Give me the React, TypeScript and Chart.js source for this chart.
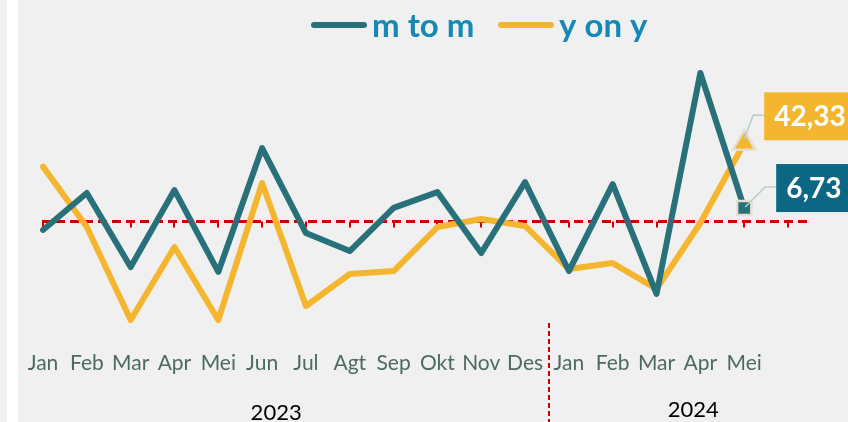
import React, { useEffect, useRef } from 'react';
import { Chart, registerables } from 'chart.js';

Chart.register(...registerables);

// ---- data ----
const months = ['Jan', 'Feb', 'Mar', 'Apr', 'Mei', 'Jun', 'Jul', 'Agt', 'Sep', 'Okt', 'Nov', 'Des', 'Jan', 'Feb', 'Mar', 'Apr', 'Mei', ''];
const years = ['2023', '2024'];
const mtmLabel = 'm to m';
const yoyLabel = 'y on y';
const mtm = [-5.3, 15.0, -25.7, 16.6, -28.4, 39.7, -7.0, -16.9, 6.8, 15.5, -18.0, 21.0, -27.9, 19.9, -40.5, 81.0, 6.73];
const yoy = [29.5, -3.7, -54.8, -14.7, -54.8, 20.5, -47.1, -29.5, -27.9, -3.7, 0.7, -3.1, -26.8, -23.5, -37.7, -1.5, 42.33];

const TEAL = '#28717a';
const YELLOW = '#f4b62f';
const TEAL_BOX = '#0b6783';
const LEGEND_TEXT = '#1589b5';
const RED = '#d00000';
const FONT = 'Lato, "Open Sans", sans-serif';

const fmt = (v: number) => v.toFixed(2).replace('.', ',');

const decoPlugin = {
  id: 'deco',
  beforeDraw(chart: any) {
    const { ctx, width, height } = chart;
    ctx.save();
    ctx.fillStyle = '#f0f0f0';
    ctx.fillRect(0, 0, width, height);
    ctx.fillStyle = '#ffffff';
    ctx.fillRect(7, 0, 11, height);
    ctx.restore();
  },
  beforeDatasetsDraw(chart: any) {
    const { ctx, height } = chart;
    const x = chart.scales.x;
    const y = chart.scales.y;
    const y0 = Math.round(y.getPixelForValue(0)) + 1.5;
    ctx.save();
    // zero line (dashed) with tick marks
    ctx.strokeStyle = RED;
    ctx.lineWidth = 3;
    ctx.setLineDash([9, 5]);
    ctx.beginPath();
    ctx.moveTo(Math.round(x.getPixelForValue(0)) - 1, y0);
    ctx.lineTo(x.right + 22, y0);
    ctx.stroke();
    ctx.setLineDash([]);
    ctx.lineWidth = 2;
    ctx.beginPath();
    for (let i = 0; i < months.length; i++) {
      const px = Math.round(x.getPixelForValue(i));
      ctx.moveTo(px, y0);
      ctx.lineTo(px, y0 + 6);
    }
    ctx.stroke();
    // separator between years
    ctx.lineWidth = 2;
    ctx.setLineDash([5, 3]);
    const sx = Math.round(x.getPixelForValue(11.55));
    ctx.beginPath();
    ctx.moveTo(sx, 323);
    ctx.lineTo(sx, height);
    ctx.stroke();
    ctx.setLineDash([]);
    // year labels
    ctx.fillStyle = '#000000';
    ctx.font = `22px ${FONT}`;
    ctx.textAlign = 'center';
    ctx.textBaseline = 'alphabetic';
    ctx.fillText(years[0], x.getPixelForValue(5.32), 420);
    ctx.fillText(years[1], x.getPixelForValue(14.84), 417);
    ctx.restore();
  },
  afterDatasetsDraw(chart: any) {
    const { ctx } = chart;
    ctx.save();
    // legend
    const items = [
      { label: chart.data.datasets[0].label, color: TEAL, x: 311 },
      { label: chart.data.datasets[1].label, color: YELLOW, x: 498 },
    ];
    ctx.font = `bold 33px ${FONT}`;
    ctx.textBaseline = 'alphabetic';
    ctx.textAlign = 'left';
    for (const it of items) {
      ctx.strokeStyle = it.color;
      ctx.lineWidth = 6;
      ctx.lineCap = 'round';
      ctx.beginPath();
      ctx.moveTo(it.x + 3, 25);
      ctx.lineTo(it.x + 53, 25);
      ctx.stroke();
      ctx.fillStyle = LEGEND_TEXT;
      ctx.fillText(it.label, it.x + 61, 37);
    }
    // data labels for last points
    const lbls = [
      { ds: 1, fill: YELLOW, dx: 20, top: -51, lead: [[0, -4], [9, -28]] },
      { ds: 0, fill: TEAL_BOX, dx: 32, top: -44, lead: [[1, -1], [21, -21]] },
    ];
    ctx.font = `bold 28px ${FONT}`;
    for (const l of lbls) {
      const meta = chart.getDatasetMeta(l.ds);
      const data = chart.data.datasets[l.ds].data;
      const idx = data.length - 1;
      const pt = meta.data[idx];
      const px = pt.x;
      const py = pt.y;
      const text = fmt(data[idx]);
      const tw = ctx.measureText(text).width;
      const bx = px + l.dx;
      const by = py + l.top;
      const bw = tw + 20;
      const bh = 48;
      // leader
      ctx.strokeStyle = '#b8cdc8';
      ctx.lineWidth = 1.5;
      ctx.lineCap = 'butt';
      ctx.beginPath();
      ctx.moveTo(px + l.lead[0][0], py + l.lead[0][1]);
      ctx.lineTo(px + l.lead[1][0], py + l.lead[1][1]);
      ctx.lineTo(bx, py + l.lead[1][1]);
      ctx.stroke();
      // box
      ctx.fillStyle = l.fill;
      ctx.fillRect(bx, by, bw, bh);
      ctx.fillStyle = '#ffffff';
      ctx.textAlign = 'center';
      ctx.textBaseline = 'middle';
      ctx.fillText(text, bx + bw / 2, by + bh / 2 + 1);
    }
    ctx.restore();
  },
};

export default function App() {
  const ref = useRef<HTMLCanvasElement | null>(null);
  useEffect(() => {
    if (!ref.current) return;
    const lastIdx = (ctx: any) => ctx.dataIndex === ctx.dataset.data.length - 1;
    const chart = new Chart(ref.current, {
      type: 'line',
      data: {
        labels: months,
        datasets: [
          {
            label: mtmLabel,
            data: mtm,
            borderColor: TEAL,
            backgroundColor: TEAL,
            borderWidth: 6,
            tension: 0,
            borderJoinStyle: 'round',
            borderCapStyle: 'round',
            pointStyle: 'rect',
            pointRadius: (c: any) => (lastIdx(c) ? 10 : 0),
            pointBorderColor: '#e4dfd1',
            pointBorderWidth: 2.5,
            pointBackgroundColor: TEAL,
          },
          {
            label: yoyLabel,
            data: yoy,
            borderColor: YELLOW,
            backgroundColor: YELLOW,
            borderWidth: 6,
            tension: 0,
            borderJoinStyle: 'round',
            borderCapStyle: 'round',
            pointStyle: 'triangle',
            pointRadius: (c: any) => (lastIdx(c) ? 13 : 0),
            pointBorderColor: '#e4dfd1',
            pointBorderWidth: 2.5,
            pointBackgroundColor: YELLOW,
          },
        ],
      },
      options: {
        responsive: false,
        animation: false,
        devicePixelRatio: 1,
        events: [],
        layout: { padding: { left: 43, right: 60, top: 50, bottom: 0 } },
        plugins: { legend: { display: false }, tooltip: { enabled: false } },
        scales: {
          x: {
            type: 'category',
            offset: false,
            grid: { display: false, drawTicks: false },
            border: { display: false },
            ticks: {
              autoSkip: false,
              maxRotation: 0,
              padding: 11,
              color: '#4d6b5d',
              font: { family: FONT, size: 21 },
            },
            afterFit: (scale: any) => {
              scale.height = 82;
            },
          },
          y: {
            display: false,
            min: -65.8,
            max: 93.6,
          },
        },
      },
      plugins: [decoPlugin],
    });
    return () => chart.destroy();
  }, []);
  return (
    <div style={{ position: 'fixed', left: 0, top: 0, width: 848, height: 422 }}>
      <canvas ref={ref} width={848} height={422} style={{ display: 'block', width: 848, height: 422 }} />
    </div>
  );
}
